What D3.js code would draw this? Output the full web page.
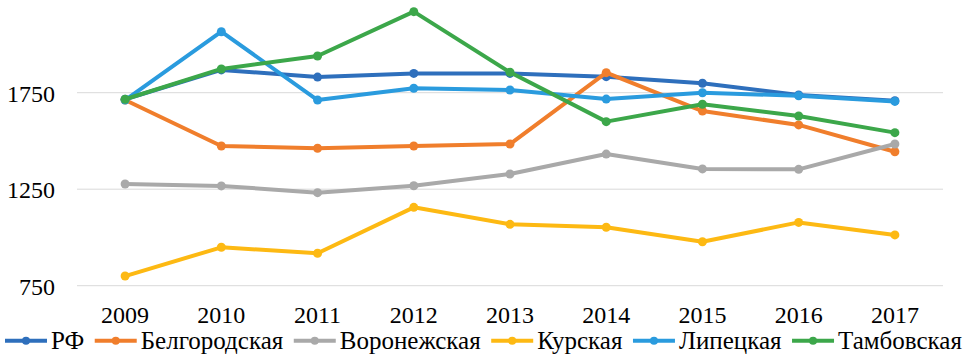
<!DOCTYPE html>
<html>
<head>
<meta charset="utf-8">
<script src="https://cdn.jsdelivr.net/npm/d3@7"></script>
</head>
<body style="margin:0">
<svg id="viz" width="970" height="360"></svg>
<script>
const years = ["2009","2010","2011","2012","2013","2014","2015","2016","2017"];
const seriesNames = ["РФ","Белгородская","Воронежская","Курская","Липецкая","Тамбовская"];
const rf        = [1716, 1868, 1831, 1850, 1850, 1833, 1799, 1738, 1708];
const belgorod  = [1712, 1474, 1462, 1474, 1484, 1854, 1655, 1583, 1444];
const voronezh  = [1277, 1267, 1232, 1268, 1329, 1432, 1355, 1353, 1484];
const kursk     = [800, 949, 918, 1156, 1068, 1053, 978, 1078, 1013];
const lipetsk   = [1712, 2066, 1712, 1773, 1764, 1717, 1750, 1734, 1705];
const tambov    = [1716, 1873, 1940, 2170, 1856, 1600, 1690, 1629, 1543];
const yTicks = [750, 1250, 1750];
const colors = ["#2E6FBC", "#F07E2C", "#A9A9A9", "#FDB913", "#2A9BDE", "#3CA74A"];

const seriesValues = [rf, belgorod, voronezh, kursk, lipetsk, tambov];
const series = seriesNames.map((n, i) => ({name: n, values: seriesValues[i], color: colors[i]}));

const FONT = "'Liberation Serif'";
function styleText(sel, size) {
  sel.style("font-family", FONT, "important")
     .style("font-size", size + "px", "important")
     .style("fill", "#000");
}
const svg = d3.select("#viz");
const left = 77, right = 943;
const x = d3.scaleBand().domain(years).range([left, right]);
const y = d3.scaleLinear().domain([750, 2250]).range([285.7, -3.8]);

// gridlines
svg.append("g").selectAll("line").data(yTicks).join("line")
  .attr("x1", left).attr("x2", right)
  .attr("y1", d => y(d)).attr("y2", d => y(d))
  .attr("stroke", "#D9D9D9").attr("stroke-width", 1);

// y axis
const yAxis = d3.axisLeft(y).tickValues(yTicks).tickSize(0).tickPadding(0).tickFormat(d3.format("d"));
const gy = svg.append("g").attr("transform", "translate(55,0)").call(yAxis);
gy.attr("font-family", null).attr("font-size", null);
gy.select(".domain").remove();
gy.selectAll("text").attr("dy", "0.35em").call(styleText, 24);

// x axis
const xAxis = d3.axisBottom(x).tickSize(0).tickPadding(0);
const gx = svg.append("g").call(xAxis);
gx.attr("font-family", null).attr("font-size", null);
gx.select(".domain").remove();
gx.selectAll("text").attr("y", 315).attr("dy", "0.35em").call(styleText, 24);

const cx = d => x(d) + x.bandwidth() / 2;
const line = d3.line().x((d, i) => cx(years[i])).y(d => y(d));

const g = svg.append("g");
series.forEach(s => {
  g.append("path").datum(s.values)
    .attr("d", line).attr("fill", "none")
    .attr("stroke", s.color).attr("stroke-width", 4)
    .attr("stroke-linejoin", "round").attr("stroke-linecap", "round");
  g.append("g").selectAll("circle").data(s.values).join("circle")
    .attr("cx", (d, i) => cx(years[i])).attr("cy", d => y(d))
    .attr("r", 4.5).attr("fill", s.color);
});

// legend
const leg = svg.append("g");
let lx = 5;
const ly = 340.7;
series.forEach(s => {
  const it = leg.append("g");
  it.append("line").attr("x1", lx).attr("x2", lx + 42).attr("y1", ly).attr("y2", ly)
    .attr("stroke", s.color).attr("stroke-width", 4);
  it.append("circle").attr("cx", lx + 21).attr("cy", ly).attr("r", 4).attr("fill", s.color);
  const t = it.append("text").attr("x", lx + 46).attr("y", ly).attr("dy", "0.35em")
    .call(styleText, 25).text(s.name);
  lx += 46 + t.node().getComputedTextLength() + 10.5;
});
</script>
</body>
</html>
